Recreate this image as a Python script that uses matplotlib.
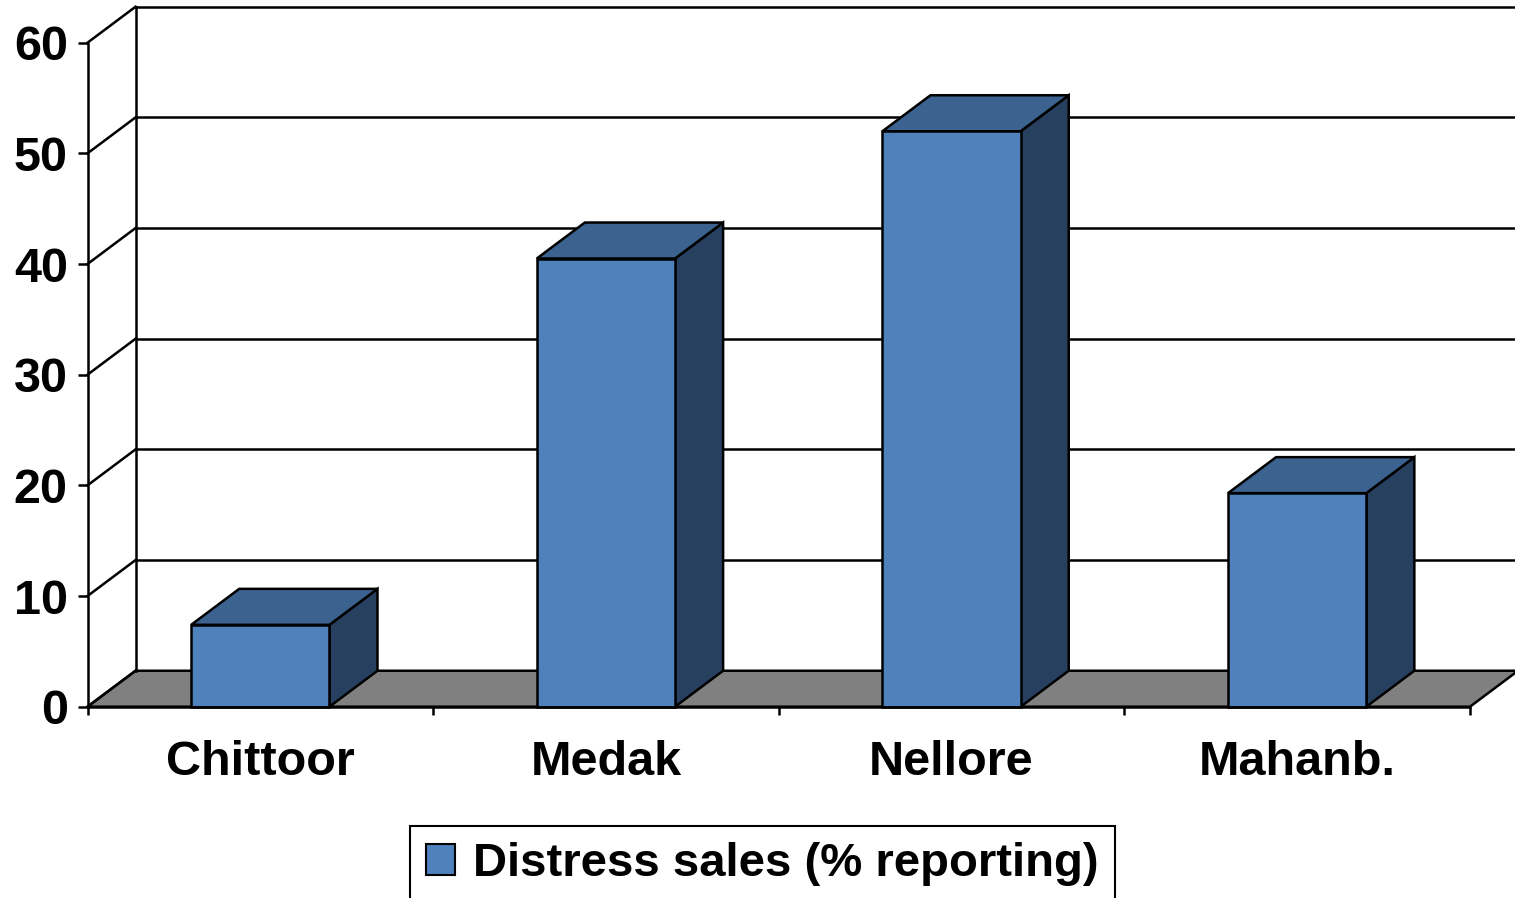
import matplotlib
matplotlib.use('Agg')
import matplotlib.pyplot as plt
from matplotlib.patches import Polygon, Patch

plt.rcParams['font.family'] = ['Liberation Sans', 'DejaVu Sans']
plt.rcParams['font.weight'] = 'bold'

# data
districts = ['Chittoor', 'Medak', 'Nellore', 'Mahanb.']
distress_sales = [7.4, 40.5, 52.0, 19.3]
series_name = 'Distress sales (% reporting)'
yticks = [0, 10, 20, 30, 40, 50, 60]

# colours
front_c = '#4F81BD'
top_c = '#3C6390'
side_c = '#28405F'
floor_c = '#808080'

# fake 3d depth (in data units)
dx = 0.139
dy = 3.25
bar_w = 0.4
lw = 1.8

fig = plt.figure(figsize=(15.15, 8.98), dpi=100)
ax = fig.add_axes([87.5 / 1515, (898 - 706.7) / 898, (1470 - 87.5) / 1515, 664 / 898])
ax.set_xlim(0, len(districts))
ax.set_ylim(0, 60)

# floor
n = len(districts)
floor = Polygon([(0, 0), (n, 0), (n + dx, dy), (dx, dy)], closed=True,
                facecolor=floor_c, edgecolor='black', lw=lw, clip_on=False, zorder=1)
ax.add_patch(floor)

# back wall gridlines + side wall diagonals
for v in yticks:
    if v > 0:
        ax.plot([dx, n + dx], [v + dy, v + dy], color='black', lw=lw, clip_on=False, zorder=2)
    ax.plot([0, dx], [v, v + dy], color='black', lw=lw, clip_on=False, zorder=2)
ax.plot([dx, dx], [dy, yticks[-1] + dy], color='black', lw=lw, clip_on=False, zorder=2)

# bars
for i, v in enumerate(distress_sales):
    x0 = i + 0.5 - bar_w / 2
    x1 = i + 0.5 + bar_w / 2
    front = Polygon([(x0, 0), (x1, 0), (x1, v), (x0, v)], closed=True,
                    facecolor=front_c, edgecolor='black', lw=lw, clip_on=False, zorder=3,
                    joinstyle='miter')
    top = Polygon([(x0, v), (x1, v), (x1 + dx, v + dy), (x0 + dx, v + dy)], closed=True,
                  facecolor=top_c, edgecolor='black', lw=lw, clip_on=False, zorder=3,
                  joinstyle='miter')
    side = Polygon([(x1, 0), (x1 + dx, dy), (x1 + dx, v + dy), (x1, v)], closed=True,
                   facecolor=side_c, edgecolor='black', lw=lw, clip_on=False, zorder=3,
                   joinstyle='miter')
    ax.add_patch(side)
    ax.add_patch(top)
    ax.add_patch(front)

# axes
for s in ['top', 'right']:
    ax.spines[s].set_visible(False)
for s in ['left', 'bottom']:
    ax.spines[s].set_linewidth(lw)
    ax.spines[s].set_zorder(4)

ax.set_yticks(yticks)
ax.set_yticklabels([str(t) for t in yticks], fontsize=35, fontweight='bold')
ax.tick_params(axis='y', length=7.2, width=lw, pad=7)

ax.set_xticks(range(n + 1))
ax.set_xticklabels([])
ax.tick_params(axis='x', which='major', length=5.8, width=lw)
ax.set_xticks([i + 0.5 for i in range(n)], minor=True)
ax.set_xticklabels(districts, minor=True, fontsize=35, fontweight='bold')
ax.tick_params(axis='x', which='minor', length=0, pad=24)

leg = fig.legend(handles=[Patch(facecolor=front_c, edgecolor='black', lw=1.5)],
                 labels=[series_name], loc='upper left',
                 bbox_to_anchor=(410 / 1515, 72 / 898),
                 prop={'size': 34, 'weight': 'bold'},
                 frameon=True, fancybox=False, shadow=False,
                 handlelength=0.62, handleheight=0.62, handletextpad=0.38,
                 borderpad=0.34, borderaxespad=0)
leg.get_frame().set_edgecolor('black')
leg.get_frame().set_linewidth(1.5)
leg.get_frame().set_alpha(None)
leg.get_frame().set_facecolor('white')

fig.savefig('out.png', dpi=100)
